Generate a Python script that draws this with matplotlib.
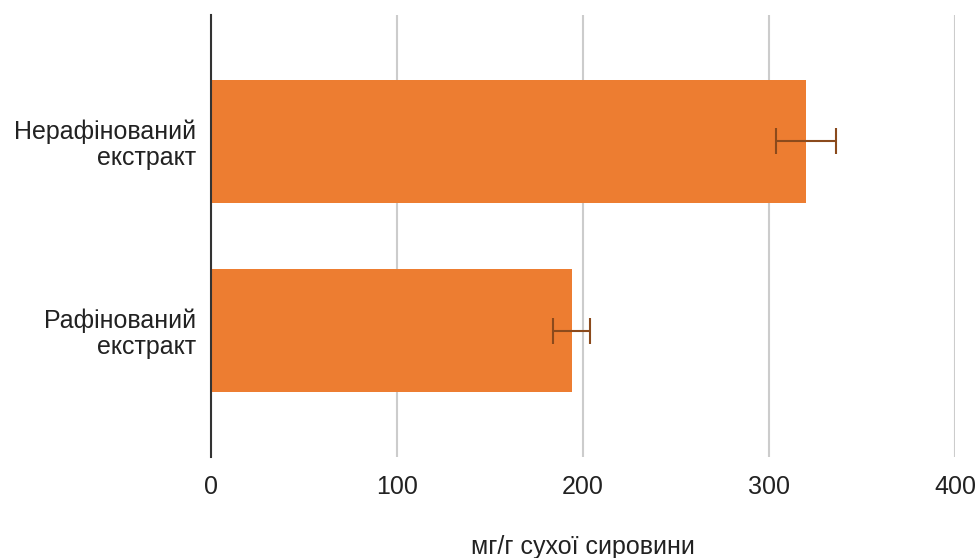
import matplotlib
matplotlib.use('Agg')
from matplotlib import pyplot as plt

# data
categories = ['Рафінований\nекстракт', 'Нерафінований\nекстракт']
values = [194, 320]
errors = [10, 16]
x_ticks = [0, 100, 200, 300, 400]

plt.rcParams['font.family'] = ['Liberation Sans', 'DejaVu Sans']

fig = plt.figure(figsize=(9.78, 5.58), dpi=100)
ax = fig.add_axes([0.2157, 0.181, 0.7607, 0.792])

pos = list(range(len(categories)))
ax.barh(pos, values, height=0.65, color='#ED7D31', zorder=2)
ax.errorbar(values, pos, xerr=errors, fmt='none', ecolor='#8B4A1C',
            elinewidth=1.5, capsize=9.5, capthick=1.5, zorder=3)

ax.set_xlim(0, 400)
ax.set_ylim(-0.667, 1.667)
ax.set_xticks(x_ticks)
ax.set_yticks(pos)
ax.set_yticklabels(categories, ha='right', multialignment='right', linespacing=1.08)
ax.tick_params(axis='both', length=0, labelsize=18, colors='#222222')
ax.tick_params(axis='x', pad=13)
ax.tick_params(axis='y', pad=11)

ax.grid(axis='x', color='#cccccc', linewidth=1.5, zorder=0)
for s in ['top', 'right', 'bottom']:
    ax.spines[s].set_visible(False)
ax.spines['left'].set_color('#333333')
ax.spines['left'].set_linewidth(1.5)
ax.spines['left'].set_zorder(4)

ax.set_xlabel('мг/г сухої сировини', fontsize=18, color='#222222', labelpad=26)

fig.savefig('out.png', dpi=100)
